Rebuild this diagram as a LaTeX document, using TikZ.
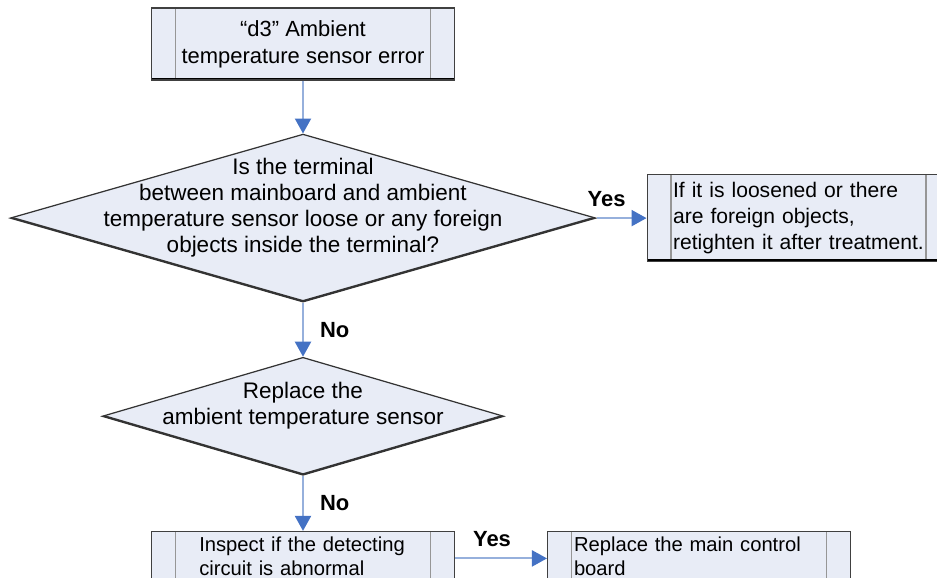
\documentclass[tikz,border=0pt]{standalone}
\usepackage{fontspec}
\setmainfont{Liberation Sans}
\usetikzlibrary{arrows.meta,positioning,shapes.geometric}
\definecolor{procfill}{RGB}{232,236,246}
\definecolor{bargray}{RGB}{150,150,150}
\definecolor{flowline}{RGB}{150,176,220}
\definecolor{flowhead}{RGB}{68,114,196}
\newcommand{\qtext}[1]{\raisebox{0.09cm}[0pt][0pt]{\makebox[0pt]{\begin{tabular}{@{}c@{}}#1\end{tabular}}}}

\begin{document}
\begin{tikzpicture}[
  x=0.02cm,
  y=-0.02cm,
  procbox/.style={
    draw=black!75,
    line width=0.6pt,
    fill=procfill,
    minimum width=6.06cm,
    minimum height=1.44cm,
    inner sep=0pt,
    font=\fontsize{12.5}{15.5}\selectfont,
    path picture={
      \draw[bargray, line width=1pt]
        ([xshift=0.48cm]path picture bounding box.north west) -- ([xshift=0.48cm]path picture bounding box.south west)
        ([xshift=-0.48cm]path picture bounding box.north east) -- ([xshift=-0.48cm]path picture bounding box.south east);
      \draw[black, line width=2.4pt]
        (path picture bounding box.south west) -- (path picture bounding box.south east);
    },
  },
  query/.style={
    shape=diamond,
    draw=black!80,
    line width=0.7pt,
    fill=procfill,
    inner sep=0pt,
    font=\fontsize{12.8}{14.7}\selectfont,
    path picture={
      \draw[black!80, line width=2pt]
        (path picture bounding box.west) -- (path picture bounding box.south) -- (path picture bounding box.east);
    },
  },
  flow/.style={-{Triangle[length=0.3cm, width=0.32cm, color=flowhead]}, flowline, line width=1.2pt},
  tag/.style={font=\fontsize{12.5}{15}\selectfont\bfseries, text=black, inner sep=0pt},
]

\useasboundingbox (0,0) rectangle (937,578);

\node[procbox, align=center] (sensor_err) at (303,44) {“d3” Ambient\\temperature sensor error};
\node[query, minimum width=11.72cm, minimum height=3.36cm, below=1.06cm of sensor_err] (terminal_chk) {\qtext{Is the terminal\\between mainboard and ambient\\temperature sensor loose or any foreign\\objects inside the terminal?}};
\node[procbox, minimum height=1.74cm, text width=5.02cm, align=left, font=\fontsize{12}{15}\selectfont, right=1cm of terminal_chk] (retighten) {If it is loosened or there\\are foreign objects,\\retighten it after treatment.};
\node[query, minimum width=8.04cm, minimum height=2.36cm, below=1.08cm of terminal_chk] (replace_sensor) {\qtext{Replace the\\ambient temperature sensor}};
\node[procbox, minimum height=1.08cm, text depth=0.56cm, text width=4.15cm, align=left, font=\fontsize{11.5}{13.8}\selectfont, below=1.1cm of replace_sensor] (inspect) {Inspect if the detecting\\circuit is abnormal};
\node[procbox, minimum height=1.08cm, text depth=0.56cm, text width=5cm, align=left, font=\fontsize{11.5}{13.8}\selectfont, right=1.84cm of inspect] (replace_board) {Replace the main control\\board};

\draw[flow] (sensor_err) -- (terminal_chk);
\draw[flow] (terminal_chk) -- node[tag, above=0.2cm, xshift=-0.3cm] {Yes} (retighten);
\draw[flow] (terminal_chk) -- node[tag, right=0.32cm] {No} (replace_sensor);
\draw[flow] (replace_sensor) -- node[tag, right=0.32cm] {No} (inspect);
\draw[flow] (inspect) -- node[tag, above=0.22cm, xshift=-0.18cm] {Yes} (replace_board);

\end{tikzpicture}
\end{document}
